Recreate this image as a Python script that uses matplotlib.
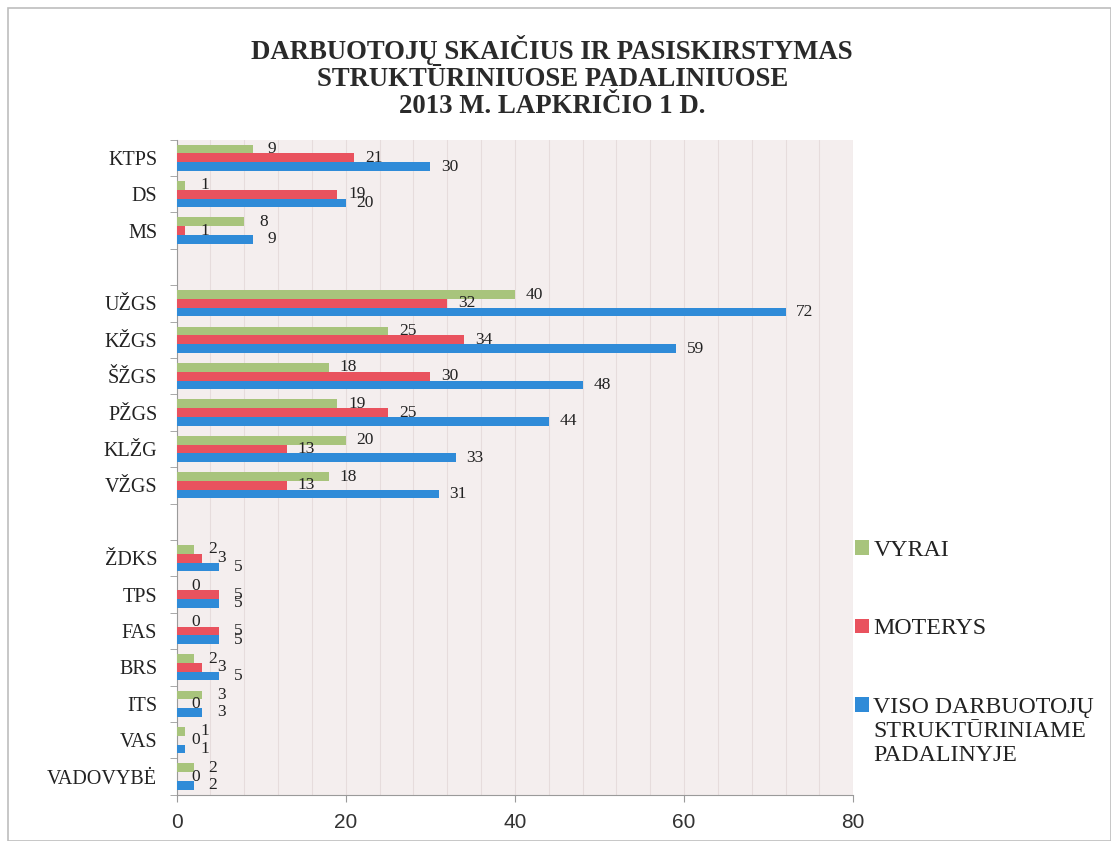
import numpy as np
import matplotlib.pyplot as plt
from matplotlib.patches import Rectangle

# data, top to bottom (None = empty slot between groups)
categories = ['KTPS', 'DS', 'MS', None,
              'UŽGS', 'KŽGS', 'ŠŽGS', 'PŽGS', 'KLŽG', 'VŽGS', None,
              'ŽDKS', 'TPS', 'FAS', 'BRS', 'ITS', 'VAS', 'VADOVYBĖ']
vyrai   = [9, 1, 8, None, 40, 25, 18, 19, 20, 18, None, 2, 0, 0, 2, 3, 1, 2]
moterys = [21, 19, 1, None, 32, 34, 30, 25, 13, 13, None, 3, 5, 5, 3, 0, 0, 0]
viso    = [30, 20, 9, None, 72, 59, 48, 44, 33, 31, None, 5, 5, 5, 5, 3, 1, 2]
series_names = ['VYRAI', 'MOTERYS', 'VISO DARBUOTOJŲ\nSTRUKTŪRINIAME\nPADALINYJE']
colors = ['#a8c47c', '#e9525e', '#2f8bd8']
xticks = [0, 20, 40, 60, 80]

serif = ['Liberation Serif', 'DejaVu Serif']
plt.rcParams['font.family'] = serif

fig = plt.figure(figsize=(11.11, 8.41), dpi=100)
fig.patches.append(Rectangle((0.007, 0.0), 0.993, 0.99, transform=fig.transFigure,
                             fill=False, edgecolor='#bdbdbd', lw=1.2))
ax = fig.add_axes([0.159, 0.055, 0.609, 0.779])
ax.set_facecolor('#f4eeee')

pos = np.arange(len(categories))
h = 0.24
offsets = [-h, 0, h]
for vals, off, col, name in zip([vyrai, moterys, viso], offsets, colors, series_names):
    idx = [i for i, v in enumerate(vals) if v is not None]
    vv = [vals[i] for i in idx]
    ax.barh(pos[idx] + off, vv, height=h, color=col, label=name, zorder=3)
    for i, v in zip(idx, vv):
        ax.annotate(str(v), (v, pos[i] + off), xytext=(14, 0), textcoords='offset points',
                    ha='center', va='center', fontsize=12.5, color='#222222', zorder=4)

ax.set_xlim(0, 80)
ax.set_ylim(len(categories) - 0.5, -0.5)
lab_idx = [i for i, c in enumerate(categories) if c is not None]
ax.set_yticks(pos[lab_idx])
ax.set_yticklabels([categories[i] for i in lab_idx], fontsize=14.5, color='#222222')
ax.set_yticks(np.arange(len(categories) + 1) - 0.5, minor=True)
ax.tick_params(axis='y', which='major', length=0, pad=14)
ax.tick_params(axis='y', which='minor', length=5, color='#9a9a9a', direction='out')
ax.set_xticks(xticks)
ax.set_xticklabels([str(t) for t in xticks], fontsize=15, color='#333333',
                   family=['Liberation Sans', 'DejaVu Sans'])
ax.tick_params(axis='x', length=5, color='#9a9a9a', pad=8)
ax.set_xticks(np.arange(0, 81, 4), minor=True)
ax.tick_params(axis='x', which='minor', length=0)
ax.grid(axis='x', which='both', color='#e6dcdc', lw=0.8, zorder=0)
for s in ['top', 'right']:
    ax.spines[s].set_visible(False)
for s in ['left', 'bottom']:
    ax.spines[s].set_color('#9a9a9a')

fig.text(0.497, 0.958, 'DARBUOTOJŲ SKAIČIUS IR PASISKIRSTYMAS\nSTRUKTŪRINIUOSE PADALINIUOSE\n2013 M. LAPKRIČIO 1 D.',
         ha='center', va='top', fontsize=19.3, fontweight='bold', color='#2a2a2a', linespacing=1.1)

leg = ax.legend(loc='upper left', bbox_to_anchor=(0.975, 0.418), frameon=False, fontsize=17.2,
                handlelength=0.55, handleheight=0.55, handletextpad=0.2, labelspacing=2.4,
                borderpad=0.3)
for t in leg.get_texts():
    t.set_color('#222222')
    t.set_linespacing(1.2)
# align the marker of the three-line entry with its first line
hb = leg.legend_handles[2]
hb.set_y(hb.get_y() + 19)

fig.savefig('out.png', dpi=100)
